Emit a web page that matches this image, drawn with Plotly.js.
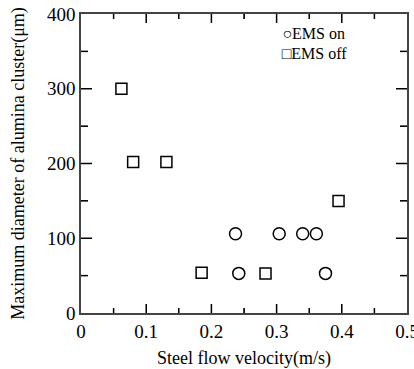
<!DOCTYPE html>
<html>
<head>
<meta charset="utf-8">
<script src="https://cdn.plot.ly/plotly-3.0.1.min.js"></script>
<style>
html,body{margin:0;padding:0;background:#fff;}
#chart{width:414px;height:369px;}
#chart text{font-family:'Liberation Serif','Times New Roman',serif !important;}
</style>
</head>
<body>
<div id="chart"></div>
<script>
var seriesNames = ['EMS on', 'EMS off'];
var onX = [0.237, 0.242, 0.304, 0.340, 0.361, 0.375];
var onY = [106, 53, 106, 106, 106, 53];
var offX = [0.062, 0.080, 0.131, 0.185, 0.283, 0.395];
var offY = [300, 202, 202, 54, 53, 150];
var xMajor = [0.1, 0.2, 0.3, 0.4];
var xMinor = [0.05, 0.15, 0.25, 0.35, 0.45];
var yMajor = [100, 200, 300];
var yMinor = [50, 150, 250, 350];

var traces = [
  {x: onX, y: onY, type: 'scatter', mode: 'markers', name: seriesNames[0],
   marker: {symbol: 'circle-open', size: 12, color: '#000', line: {width: 1.5, color: '#000'}}},
  {x: offX, y: offY, type: 'scatter', mode: 'markers', name: seriesNames[1],
   marker: {symbol: 'square-open', size: 11, color: '#000', line: {width: 1.5, color: '#000'}}}
];

var shapes = [];
function xTicks(vals, len) {
  vals.forEach(function (v) {
    [[0, len], [1, -len]].forEach(function (s) {
      shapes.push({type: 'line', xref: 'x', yref: 'paper', ysizemode: 'pixel', yanchor: s[0],
        x0: v, x1: v, y0: 0, y1: s[1], line: {color: '#000', width: 1.5}});
    });
  });
}
function yTicks(vals, len) {
  vals.forEach(function (v) {
    [[0, len], [1, -len]].forEach(function (s) {
      shapes.push({type: 'line', yref: 'y', xref: 'paper', xsizemode: 'pixel', xanchor: s[0],
        y0: v, y1: v, x0: 0, x1: s[1], line: {color: '#000', width: 1.5}});
    });
  });
}
xTicks(xMajor, 9); xTicks(xMinor, 5);
yTicks(yMajor, 11); yTicks(yMinor, 7);

var layout = {
  width: 414, height: 369,
  margin: {l: 81, r: 7, t: 14, b: 56},
  font: {color: '#000'},
  showlegend: false,
  xaxis: {
    range: [0, 0.5], dtick: 0.1, showline: true, mirror: 'ticks', ticks: 'inside', ticklen: 9,
    showgrid: false, linewidth: 1.5,
    minor: {ticks: 'inside', ticklen: 5, dtick: 0.05},
    ticklabeloverflow: 'allow',
    tickfont: {size: 19},
    title: {text: 'Steel flow velocity(m/s)', font: {size: 18}, standoff: 12}
  },
  yaxis: {
    range: [0, 400], dtick: 100, showline: true, mirror: 'ticks', ticks: 'inside', ticklen: 11,
    showgrid: false, linewidth: 1.5,
    minor: {ticks: 'inside', ticklen: 7, dtick: 50},
    tickfont: {size: 19},
    title: {text: 'Maximum diameter of alumina cluster(μm)', font: {size: 18}, standoff: 14}
  },
  shapes: shapes,
  annotations: [
    {xref: 'paper', yref: 'paper', x: 0.608, y: 0.936, xanchor: 'left', yanchor: 'middle',
     showarrow: false, text: '○' + seriesNames[0], font: {size: 16}},
    {xref: 'paper', yref: 'paper', x: 0.608, y: 0.869, xanchor: 'left', yanchor: 'middle',
     showarrow: false, text: '□' + seriesNames[1], font: {size: 16}}
  ]
};
Plotly.newPlot('chart', traces, layout, {displayModeBar: false});
</script>
</body>
</html>
